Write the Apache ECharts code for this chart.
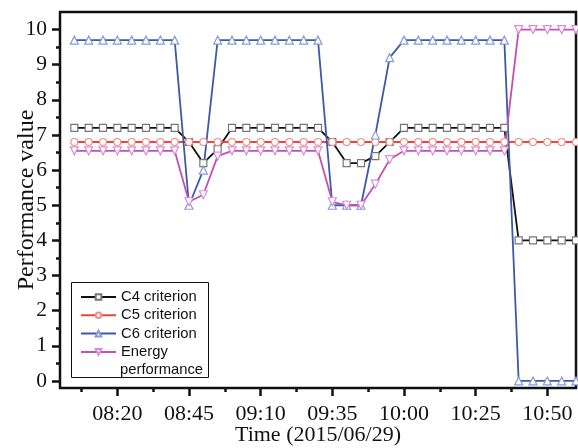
<!DOCTYPE html>
<html>
<head>
<meta charset="utf-8">
<script src="https://cdn.jsdelivr.net/npm/echarts@6/dist/echarts.min.js"></script>
<style>
  html, body { margin: 0; padding: 0; background: #fff; }
  #chart { width: 578px; height: 448px; }
</style>
</head>
<body>
<div id="chart"></div>
<script>
// Sampling times, every 5 minutes on 2015/06/29
const times = [
  '08:05', '08:10', '08:15', '08:20', '08:25', '08:30', '08:35', '08:40',
  '08:45', '08:50', '08:55', '09:00', '09:05', '09:10', '09:15', '09:20',
  '09:25', '09:30', '09:35', '09:40', '09:45', '09:50', '09:55', '10:00',
  '10:05', '10:10', '10:15', '10:20', '10:25', '10:30', '10:35', '10:40',
  '10:45', '10:50', '10:55', '11:00'
];

const c4Criterion = [
  7.2, 7.2, 7.2, 7.2, 7.2, 7.2, 7.2, 7.2,
  6.8, 6.2, 6.6, 7.2, 7.2, 7.2, 7.2, 7.2,
  7.2, 7.2, 6.8, 6.2, 6.2, 6.4, 6.8, 7.2,
  7.2, 7.2, 7.2, 7.2, 7.2, 7.2, 7.2, 4.0,
  4.0, 4.0, 4.0, 4.0
];

const c5Criterion = [
  6.8, 6.8, 6.8, 6.8, 6.8, 6.8, 6.8, 6.8,
  6.8, 6.8, 6.8, 6.8, 6.8, 6.8, 6.8, 6.8,
  6.8, 6.8, 6.8, 6.8, 6.8, 6.8, 6.8, 6.8,
  6.8, 6.8, 6.8, 6.8, 6.8, 6.8, 6.8, 6.8,
  6.8, 6.8, 6.8, 6.8
];

const c6Criterion = [
  9.7, 9.7, 9.7, 9.7, 9.7, 9.7, 9.7, 9.7,
  5.0, 6.0, 9.7, 9.7, 9.7, 9.7, 9.7, 9.7,
  9.7, 9.7, 5.0, 5.0, 5.0, 7.0, 9.2, 9.7,
  9.7, 9.7, 9.7, 9.7, 9.7, 9.7, 9.7, 0.0,
  0.0, 0.0, 0.0, 0.0
];

const energyPerformance = [
  6.55, 6.55, 6.55, 6.55, 6.55, 6.55, 6.55, 6.55,
  5.1, 5.3, 6.4, 6.55, 6.55, 6.55, 6.55, 6.55,
  6.55, 6.55, 5.1, 5.0, 5.0, 5.6, 6.3, 6.55,
  6.55, 6.55, 6.55, 6.55, 6.55, 6.55, 6.55, 10.0,
  10.0, 10.0, 10.0, 10.0
];

const xTickLabels = ['08:20', '08:45', '09:10', '09:35', '10:00', '10:25', '10:50'];
const yTickLabels = [0, 1, 2, 3, 4, 5, 6, 7, 8, 9, 10];

// minutes after 08:00
function toMinutes(s) {
  const [h, m] = s.split(':').map(Number);
  return (h - 8) * 60 + m;
}

const xMajor = xTickLabels.map(toMinutes);
const xMinor = xMajor.map(v => v - 12.5);
const yMinor = yTickLabels.slice(0, -1).map(v => v + 0.5);
const labelByMinute = {};
xTickLabels.forEach(t => { labelByMinute[toMinutes(t)] = t; });

const toPoints = values => times.map((t, i) => [toMinutes(t), values[i]]);

const SERIF = 'Liberation Serif, Times New Roman, serif';
const SANS = 'Liberation Sans, Arial, sans-serif';
const INK = '#111';
const LEGEND_FONT = 14.8;

const chart = echarts.init(document.getElementById('chart'), null, { renderer: 'canvas' });

function lineSeries(name, values, lineColor, edgeColor, symbol, size, rotate) {
  return {
    name,
    type: 'line',
    data: toPoints(values),
    color: lineColor,
    symbol,
    symbolSize: size,
    symbolRotate: rotate || 0,
    showAllSymbol: true,
    animation: false,
    lineStyle: { color: lineColor, width: 1.8 },
    itemStyle: { color: '#fff', borderColor: edgeColor, borderWidth: 1.2 }
  };
}

chart.setOption({
  backgroundColor: '#fff',
  animation: false,
  grid: {
    show: true,
    left: 60, right: 2, top: 12, bottom: 60,
    containLabel: false,
    outerBoundsMode: 'none',
    borderColor: INK, borderWidth: 2.5,
    backgroundColor: 'transparent'
  },
  xAxis: [{
    type: 'value', min: 0, max: 180,
    name: 'Time (2015/06/29)', nameLocation: 'middle', nameGap: 36,
    nameMoveOverlap: false,
    nameTextStyle: { fontFamily: SERIF, fontSize: 22, color: INK },
    axisLine: { show: false, onZero: false },
    splitLine: { show: false },
    axisTick: { show: true, customValues: xMajor, length: 8, lineStyle: { color: INK, width: 2.5 } },
    axisLabel: {
      customValues: xMajor, margin: 15,
      formatter: v => labelByMinute[v] || '',
      fontFamily: SERIF, fontSize: 22, color: INK
    }
  }, {
    type: 'value', min: 0, max: 180, position: 'bottom',
    axisLine: { show: false, onZero: false },
    splitLine: { show: false },
    axisLabel: { show: false },
    axisTick: { show: true, customValues: xMinor, length: 4, lineStyle: { color: INK, width: 2.5 } }
  }],
  yAxis: [{
    type: 'value', min: -0.2, max: 10.5,
    name: 'Performance value', nameLocation: 'middle', nameGap: 21,
    nameMoveOverlap: false,
    nameTextStyle: { fontFamily: SERIF, fontSize: 24, color: INK },
    axisLine: { show: false },
    splitLine: { show: false },
    axisTick: { show: true, customValues: yTickLabels, length: 8, lineStyle: { color: INK, width: 2.5 } },
    axisLabel: {
      customValues: yTickLabels, margin: 13,
      fontFamily: SERIF, fontSize: 21.5, color: INK
    }
  }, {
    type: 'value', min: -0.2, max: 10.5, position: 'left',
    axisLine: { show: false },
    splitLine: { show: false },
    axisLabel: { show: false },
    axisTick: { show: true, customValues: yMinor, length: 4, lineStyle: { color: INK, width: 2.5 } }
  }],
  legend: {
    orient: 'vertical',
    left: 80, top: 288,
    padding: 0,
    itemWidth: 35, itemHeight: 7, itemGap: 0.3,
    z: 10,
    textStyle: { fontFamily: SANS, fontSize: LEGEND_FONT, color: INK, lineHeight: 18 },
    data: ['C4 criterion', 'C5 criterion', 'C6 criterion', 'Energy performance'],
    // the long entry wraps: first word beside the key, the rest on the line below
    formatter: name => name === 'Energy performance' ? 'Energy' : name
  },
  graphic: [{
    type: 'rect', z: 1,
    shape: { x: 71.5, y: 282.5, width: 137, height: 95 },
    style: { fill: '#fff', stroke: INK, lineWidth: 1 }
  }, {
    type: 'text', z: 11,
    x: 120, y: 369.5,
    style: {
      text: 'performance', fill: INK,
      font: LEGEND_FONT + 'px ' + SANS,
      verticalAlign: 'middle', align: 'left'
    }
  }],
  series: [
    lineSeries('C4 criterion', c4Criterion, '#111', '#777', 'rect', 7),
    lineSeries('C5 criterion', c5Criterion, '#e8453f', '#f08c8c', 'circle', 7),
    lineSeries('C6 criterion', c6Criterion, '#3b5aa8', '#8a9ad6', 'triangle', 8),
    lineSeries('Energy performance', energyPerformance, '#c24fb4', '#d98ed6', 'triangle', 8, 180)
  ]
});
</script>
</body>
</html>
